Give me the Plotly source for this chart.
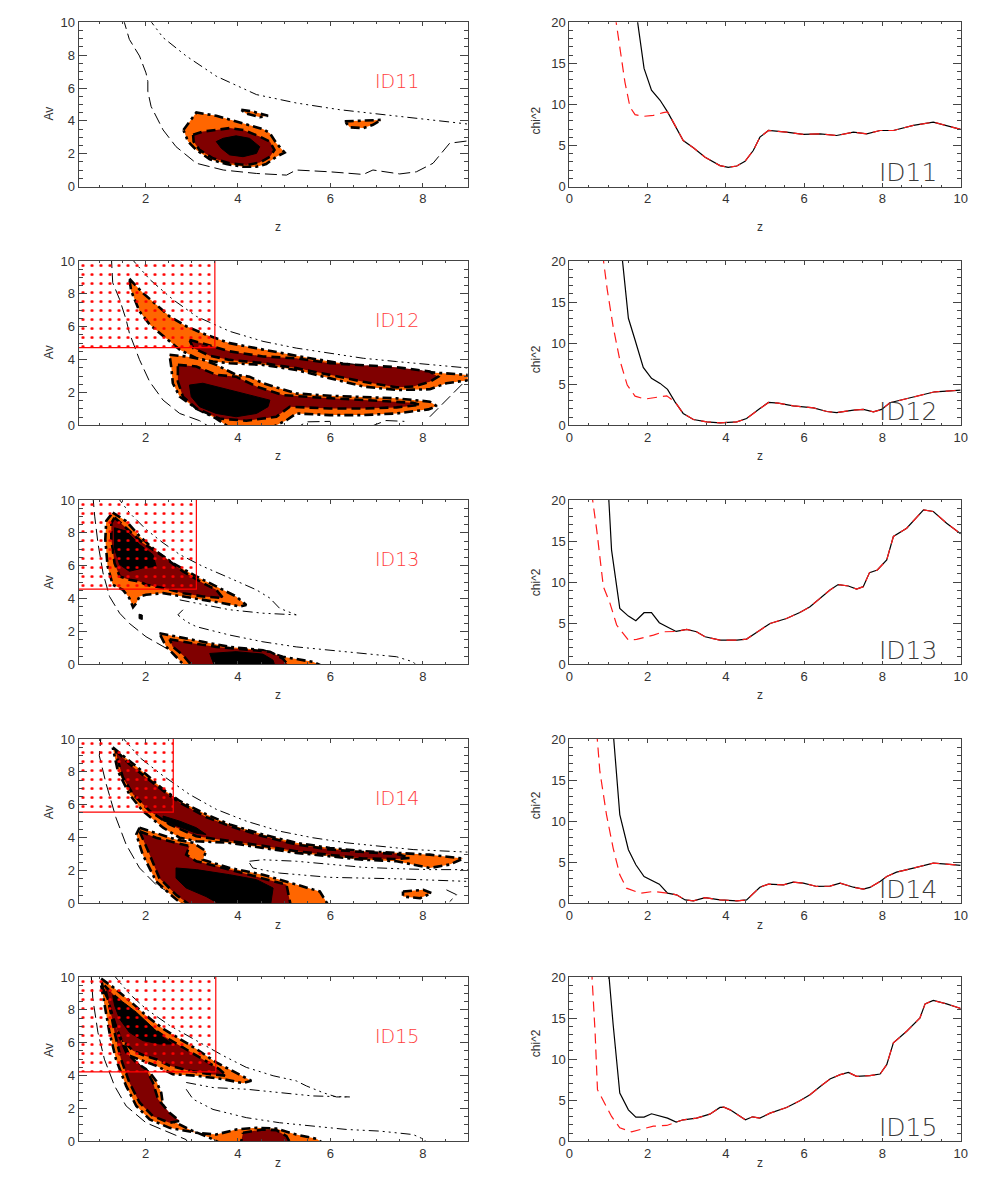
import plotly.graph_objects as go

# ---------------------------------------------------------------------------
# right column: chi2 versus z (black = free fit, red dashed = with prior)
# red curves only list their low-z branch; above RED_JOIN they follow black
# ---------------------------------------------------------------------------
ID11_Z = [1.72, 1.91, 2.10, 2.32, 2.51, 2.70, 2.91, 3.17, 3.47, 3.85, 4.06, 4.28, 4.49, 4.70,
          4.87, 5.09, 5.55, 5.98, 6.41, 6.83, 7.00, 7.26, 7.60, 7.94, 8.28, 8.79, 9.30, 10.0]
ID11_CHI = [20.9, 14.39, 11.73, 10.51, 9.1, 7.48, 5.61, 4.72, 3.57, 2.56, 2.35, 2.51, 3.08, 4.39,
            6.02, 6.83, 6.63, 6.35, 6.43, 6.22, 6.35, 6.63, 6.43, 6.83, 6.83, 7.45, 7.85, 6.96]
ID11_RED_Z = [1.17, 1.29, 1.42, 1.55, 1.68, 1.89, 2.15, 2.40]
ID11_RED = [20.9, 16.84, 12.75, 9.69, 8.76, 8.55, 8.67, 9.0]
ID11_RED_JOIN = 2.51

ID12_Z = [1.34, 1.51, 1.68, 1.89, 2.10, 2.32, 2.51, 2.70, 2.91, 3.17, 3.51, 3.85, 4.28, 4.53, 4.87,
          5.09, 5.34, 5.72, 5.98, 6.24, 6.58, 6.83, 7.26, 7.51, 7.77, 7.98, 8.19, 8.53, 8.96, 9.34,
          9.64, 10.0]
ID12_CHI = [20.9, 13.03, 10.39, 7.05, 5.71, 5.10, 4.37, 2.86, 1.44, 0.70, 0.41, 0.30, 0.41, 0.82,
            2.05, 2.78, 2.69, 2.37, 2.25, 2.12, 1.68, 1.55, 1.84, 1.93, 1.64, 1.93, 2.74, 3.14,
            3.59, 4.08, 4.16, 4.28]
ID12_RED_Z = [0.85, 0.97, 1.12, 1.29, 1.48, 1.68, 1.93, 2.15, 2.49]
ID12_RED = [20.9, 16.49, 12.01, 7.95, 4.90, 3.55, 3.19, 3.35, 3.59]
ID12_RED_JOIN = 2.70

ID13_Z = [1.00, 1.08, 1.29, 1.51, 1.70, 1.91, 2.10, 2.30, 2.53, 2.73, 3.00, 3.25, 3.47, 3.85, 4.28,
          4.53, 4.87, 5.13, 5.55, 5.89, 6.15, 6.41, 6.66, 6.87, 7.13, 7.34, 7.51, 7.67, 7.87, 8.11,
          8.28, 8.62, 9.05, 9.30, 9.64, 10.0]
ID13_CHI = [20.9, 13.9, 6.81, 5.87, 5.30, 6.28, 6.28, 5.06, 4.49, 4.0, 4.24, 3.96, 3.35, 2.94, 2.94,
            3.07, 4.16, 4.97, 5.58, 6.31, 7.0, 8.02, 9.04, 9.70, 9.53, 9.16, 9.45, 11.16, 11.48,
            12.71, 15.56, 16.57, 18.8, 18.6, 17.18, 15.88]
ID13_RED_Z = [0.57, 0.70, 0.87, 1.04, 1.21, 1.51, 1.72, 2.15, 2.40]
ID13_RED = [20.9, 16.37, 9.45, 7.42, 4.78, 2.94, 3.03, 3.55, 3.96]
ID13_RED_JOIN = 2.73

ID14_Z = [1.12, 1.21, 1.29, 1.51, 1.70, 1.91, 2.30, 2.51, 2.74, 2.96, 3.17, 3.47, 3.85, 4.28, 4.53,
          4.87, 5.09, 5.47, 5.72, 5.98, 6.32, 6.66, 6.92, 7.26, 7.51, 7.68, 7.94, 8.11, 8.36, 8.79,
          9.30, 9.64, 10.0]
ID14_CHI = [20.9, 15.27, 10.80, 6.52, 4.69, 3.26, 2.33, 1.23, 1.03, 0.41, 0.30, 0.70, 0.41, 0.30,
            0.41, 1.96, 2.33, 2.25, 2.57, 2.46, 2.05, 2.09, 2.46, 1.96, 1.72, 1.93, 2.66, 3.26,
            3.80, 4.28, 4.90, 4.78, 4.61]
ID14_RED_Z = [0.70, 0.78, 0.95, 1.12, 1.29, 1.46, 1.81, 2.15]
ID14_RED = [20.9, 16.08, 10.80, 6.72, 3.47, 1.84, 1.23, 1.44]
ID14_RED_JOIN = 2.51

ID15_Z = [1.00, 1.12, 1.29, 1.51, 1.70, 1.91, 2.10, 2.32, 2.51, 2.73, 2.91, 3.25, 3.59, 3.85, 3.95,
          4.11, 4.50, 4.68, 4.87, 5.13, 5.55, 5.89, 6.15, 6.41, 6.66, 6.92, 7.13, 7.34, 7.68, 7.94,
          8.11, 8.28, 8.62, 8.96, 9.09, 9.30, 9.64, 10.0]
ID15_CHI = [20.9, 14.21, 5.87, 3.83, 2.94, 2.94, 3.35, 3.03, 2.82, 2.33, 2.62, 2.82, 3.30, 4.12,
            4.16, 3.83, 2.62, 2.98, 2.82, 3.43, 4.12, 4.94, 5.67, 6.68, 7.58, 8.11, 8.39, 7.90,
            7.99, 8.19, 9.33, 11.98, 13.40, 15.03, 16.73, 17.14, 16.73, 16.17]
ID15_RED_Z = [0.57, 0.66, 0.72, 0.95, 1.08, 1.29, 1.59, 2.15, 2.49]
ID15_RED = [20.9, 13.19, 6.28, 4.24, 3.03, 1.64, 1.16, 1.84, 1.93]
ID15_RED_JOIN = 2.73

# ---------------------------------------------------------------------------
# left column: Av - z confidence regions, (z, Av) outlines
# ---------------------------------------------------------------------------
ID11_ORANGE = [
    [(2.82, 3.45), (3.03, 4.28), (3.10, 4.51), (3.53, 4.31), (3.96, 3.97), (4.25, 3.76), (4.54, 3.50),
     (4.69, 3.25), (4.83, 2.64), (5.01, 2.07), (4.83, 1.82), (4.61, 1.37), (4.40, 1.21), (4.11, 1.21),
     (3.75, 1.37), (3.39, 1.66), (3.10, 2.23), (2.92, 2.74)],
    [(4.07, 4.68), (4.32, 4.57), (4.65, 4.31), (4.47, 4.23), (4.18, 4.44)],
    [(6.31, 3.97), (7.10, 4.06), (6.92, 3.76), (6.71, 3.56), (6.42, 3.61)],
]
ID11_DARKRED = [
    [(3.03, 3.15), (3.24, 3.35), (3.53, 3.45), (3.82, 3.56), (4.11, 3.45), (4.47, 3.05), (4.69, 2.74),
     (4.79, 2.23), (4.69, 1.82), (4.47, 1.46), (4.18, 1.31), (3.82, 1.42), (3.46, 1.72), (3.17, 2.23),
     (3.04, 2.74)],
]
ID11_BLACK = [
    [(3.53, 2.74), (3.68, 2.94), (3.96, 3.09), (4.25, 2.94), (4.47, 2.43), (4.40, 2.02), (4.11, 1.82),
     (3.82, 1.93), (3.64, 2.33)],
]
ID11_OUTER = [
    [(2.05, 10.3), (2.38, 9.07), (2.88, 7.95), (3.53, 6.72), (4.40, 5.60), (5.26, 5.09), (6.20, 4.68),
     (7.43, 4.28), (9.0, 3.80)],
]
ID11_INNER = [
    [(1.51, 10.3), (1.65, 8.96), (1.87, 7.95), (2.01, 6.92), (2.05, 6.41), (2.05, 5.80), (2.12, 4.88),
     (2.38, 3.45), (2.66, 2.43), (3.10, 1.42), (3.68, 1.01), (4.40, 0.80), (5.05, 0.70), (5.26, 1.01),
     (5.99, 0.90), (6.71, 0.74), (6.92, 1.01), (7.50, 0.77), (7.86, 0.90), (8.22, 1.42), (8.58, 2.64),
     (8.97, 2.78)],
]

ID12_ORANGE = [
    [(1.65, 8.92), (1.94, 8.06), (2.23, 7.35), (2.52, 6.63), (2.88, 6.03), (3.31, 5.51), (3.82, 5.00),
     (4.54, 4.60), (5.26, 4.23), (5.99, 3.88), (6.71, 3.58), (7.43, 3.37), (8.15, 3.21), (9.2, 3.02),
     (9.2, 2.83), (8.51, 2.56), (8.15, 2.19), (7.43, 2.15), (6.71, 2.36), (5.99, 2.87), (5.26, 3.37),
     (4.54, 3.68), (3.82, 3.78), (3.46, 3.88), (3.10, 4.08), (2.74, 4.60), (2.38, 5.42), (2.09, 6.13),
     (1.87, 6.94), (1.69, 8.17)],
    [(2.52, 4.29), (2.88, 4.19), (3.24, 3.99), (3.53, 3.68), (3.96, 3.07), (4.25, 2.96), (4.54, 2.56),
     (5.26, 1.94), (5.99, 1.80), (6.71, 1.74), (7.43, 1.64), (8.15, 1.44), (8.30, 1.17), (8.12, 0.97),
     (7.43, 0.72), (6.71, 0.62), (5.99, 0.62), (5.26, 0.72), (5.05, 0.31), (4.54, -0.4), (3.96, -0.4),
     (3.53, 0.41), (3.10, 1.02), (2.74, 1.74), (2.59, 2.56), (2.56, 3.48)],
]
ID12_DARKRED = [
    [(2.95, 5.21), (3.31, 4.90), (3.82, 4.50), (4.54, 4.19), (5.26, 4.08), (5.99, 3.78), (6.71, 3.68),
     (7.43, 3.54), (8.15, 3.27), (8.33, 2.96), (8.15, 2.65), (7.79, 2.36), (7.43, 2.31), (6.71, 2.65),
     (5.99, 3.07), (5.26, 3.48), (4.54, 3.79), (3.82, 3.98), (3.39, 4.23), (3.03, 4.70)],
    [(2.70, 3.68), (3.10, 3.58), (3.53, 3.07), (3.96, 2.96), (4.40, 2.36), (4.97, 1.84), (5.62, 1.71),
     (6.35, 1.60), (7.07, 1.51), (7.79, 1.37), (7.94, 1.24), (7.43, 1.09), (6.71, 1.02), (5.99, 1.02),
     (5.12, 1.13), (4.83, 0.52), (4.18, 0.28), (3.60, 0.41), (3.10, 1.02), (2.81, 1.74), (2.70, 2.65)],
]
ID12_BLACK = [
    [(2.95, 2.45), (3.24, 2.56), (3.82, 2.15), (4.40, 1.74), (4.69, 1.53), (4.65, 1.13), (4.40, 0.72),
     (3.96, 0.52), (3.53, 0.72), (3.17, 1.13), (2.99, 1.74)],
]
ID12_OUTER = [
    [(1.65, 10.3), (2.09, 8.88), (2.59, 7.66), (3.10, 6.63), (3.82, 5.72), (4.54, 5.11), (5.26, 4.70),
     (5.99, 4.39), (6.71, 4.08), (7.43, 3.88), (8.15, 3.68), (9.0, 3.48)],
]
ID12_INNER = [
    [(1.26, 10.3), (1.29, 8.68), (1.44, 7.66), (1.58, 6.43), (1.65, 5.62), (1.87, 3.99), (2.09, 2.65),
     (2.38, 1.53), (2.74, 0.72), (3.17, 0.28), (3.5, -0.3)],
    [(5.19, -0.3), (5.48, 0.21), (6.0, 0.24)],
    [(6.85, -0.1), (7.2, 0.29), (7.6, 0.24)],
    [(8.15, 0.52), (8.58, 1.74), (8.87, 2.56), (9.0, 2.78)],
]

ID13_ORANGE = [
    [(1.29, 9.23), (1.58, 8.72), (1.87, 7.80), (2.23, 6.88), (2.59, 6.16), (3.10, 5.35), (3.53, 4.74),
     (3.96, 4.13), (4.18, 3.61), (4.04, 3.52), (3.68, 3.72), (3.24, 3.92), (2.74, 4.13), (2.38, 4.33),
     (2.01, 4.23), (1.87, 4.13), (1.80, 3.72), (1.73, 3.48), (1.65, 4.03), (1.51, 4.53), (1.29, 4.84),
     (1.18, 5.96), (1.13, 7.59), (1.15, 8.72)],
    [(2.30, 1.89), (2.66, 1.68), (3.24, 1.37), (3.82, 1.06), (4.54, 0.86), (4.97, 0.46), (5.62, 0.15),
     (6.06, -0.4), (2.95, -0.4), (2.66, 0.46), (2.45, 1.06)],
]
ID13_DARKRED = [
    [(1.33, 8.93), (1.58, 8.31), (1.94, 7.39), (2.38, 6.58), (2.81, 5.66), (3.24, 4.95), (3.53, 4.53),
     (3.68, 4.03), (3.24, 4.13), (2.81, 4.33), (2.38, 4.64), (2.01, 4.84), (1.87, 5.04), (1.65, 5.15),
     (1.44, 5.35), (1.33, 6.16), (1.26, 7.59), (1.26, 8.60)],
    [(2.52, 1.53), (2.95, 1.31), (3.53, 1.06), (4.18, 0.90), (4.69, 0.77), (4.97, 0.35), (5.19, -0.4),
     (3.10, -0.4), (2.81, 0.55), (2.59, 1.06)],
]
ID13_BLACK = [
    [(1.33, 8.31), (1.58, 8.11), (1.87, 7.29), (2.16, 6.68), (2.23, 5.96), (1.94, 5.86), (1.65, 5.66),
     (1.44, 6.07), (1.33, 7.03)],
    [(3.39, 0.66), (3.96, 0.77), (4.54, 0.62), (4.76, 0.25), (4.83, -0.4), (3.53, -0.4)],
    [(1.86, 3.05), (1.93, 3.0), (1.93, 2.73), (1.86, 2.78)],
]
ID13_OUTER = [
    [(1.36, 10.3), (1.65, 9.23), (2.01, 8.21), (2.38, 7.39), (2.74, 6.68), (3.24, 5.96), (3.82, 5.25),
     (4.40, 4.53), (4.69, 4.03), (4.90, 3.41), (5.26, 3.01)],
    [(2.74, 3.92), (3.10, 3.72), (3.82, 3.32), (4.54, 3.11), (5.26, 3.01)],
    [(2.81, 3.32), (2.70, 3.01), (2.88, 2.60), (3.10, 2.29), (3.82, 1.78), (4.54, 1.37), (5.26, 1.06),
     (5.99, 0.86), (6.71, 0.66), (7.43, 0.46), (7.79, 0.15), (7.94, -0.3)],
]
ID13_INNER = [
    [(0.86, 10.3), (0.90, 9.02), (0.97, 7.39), (1.08, 5.56), (1.22, 4.13), (1.44, 3.11), (1.65, 2.49),
     (2.01, 1.68), (2.52, 0.86), (2.88, 0.15), (2.95, -0.3)],
]

ID14_ORANGE = [
    [(1.29, 9.49), (1.65, 8.68), (2.01, 7.86), (2.38, 6.94), (2.74, 6.23), (3.31, 5.42), (3.82, 4.80),
     (4.54, 4.19), (5.26, 3.68), (5.99, 3.37), (6.71, 3.17), (7.43, 3.07), (8.15, 2.96), (8.87, 2.72),
     (8.58, 2.36), (8.15, 2.15), (7.43, 2.56), (6.71, 2.65), (5.99, 2.87), (5.26, 3.07), (4.54, 3.37),
     (3.82, 3.68), (3.10, 3.78), (2.74, 3.99), (2.38, 4.60), (1.94, 5.62), (1.65, 6.63), (1.40, 8.06)],
    [(1.87, 4.60), (2.23, 4.29), (2.66, 3.88), (3.03, 3.68), (3.31, 3.17), (3.24, 2.65), (3.82, 2.15),
     (4.54, 1.74), (5.26, 1.13), (5.77, 0.72), (6.02, -0.4), (2.95, -0.4), (2.59, 0.41), (2.23, 1.33),
     (1.94, 2.96), (1.80, 4.19)],
    [(7.57, 0.72), (8.01, 0.82), (8.19, 0.62), (7.94, 0.31), (7.57, 0.41)],
]
ID14_DARKRED = [
    [(1.36, 9.29), (1.65, 8.48), (2.01, 7.66), (2.38, 6.85), (2.74, 6.13), (3.31, 5.25), (3.82, 4.70),
     (4.54, 4.08), (5.26, 3.58), (5.99, 3.27), (6.71, 3.12), (7.43, 3.01), (7.72, 2.76), (7.43, 2.70),
     (6.71, 2.73), (5.99, 2.94), (5.26, 3.17), (4.54, 3.50), (3.82, 3.81), (3.10, 4.08), (2.52, 4.80),
     (2.09, 5.62), (1.73, 6.63), (1.51, 7.66), (1.40, 8.68)],
    [(1.87, 4.39), (2.23, 3.99), (2.66, 3.68), (2.95, 3.48), (2.88, 2.96), (3.10, 2.56), (3.82, 2.05),
     (4.54, 1.53), (5.05, 1.13), (5.16, -0.4), (3.10, -0.4), (2.66, 0.52), (2.30, 1.53), (2.09, 2.96),
     (1.94, 3.99)],
]
ID14_BLACK = [
    [(2.66, 2.15), (3.10, 2.05), (3.82, 1.74), (4.40, 1.44), (4.76, 0.93), (4.69, -0.4), (3.82, -0.4),
     (3.31, 0.41), (2.88, 0.93), (2.66, 1.53)],
    [(2.38, 5.31), (2.74, 5.00), (3.10, 4.60), (3.31, 4.19), (3.10, 4.26), (2.74, 4.65), (2.38, 5.03)],
]
ID14_OUTER = [
    [(1.44, 10.3), (1.87, 8.88), (2.38, 7.76), (2.95, 6.63), (3.53, 5.72), (4.18, 5.00), (4.90, 4.39),
     (5.62, 3.99), (6.35, 3.68), (7.07, 3.48), (7.79, 3.27), (9.0, 3.11)],
    [(4.25, 2.56), (4.54, 2.65), (5.26, 2.56), (5.99, 2.36), (6.71, 2.19), (7.43, 2.11), (8.15, 2.05),
     (9.0, 2.05)],
    [(4.25, 2.45), (4.32, 2.15), (4.90, 1.84), (5.99, 1.58), (7.43, 1.49), (9.0, 1.33)],
]
ID14_INNER = [
    [(1.04, 10.3), (1.0, 8.98), (1.15, 7.25), (1.36, 5.21), (1.58, 3.58), (1.87, 2.15), (2.23, 1.13),
     (2.66, 0.41), (2.88, 0.10), (2.95, -0.3)],
    [(8.51, 0.82), (8.73, 0.52), (8.58, 0.10)],
]

ID15_ORANGE = [
    [(1.04, 9.90), (1.29, 9.40), (1.65, 8.57), (2.01, 7.66), (2.38, 6.85), (2.74, 6.23), (3.10, 5.62),
     (3.53, 4.80), (3.96, 4.19), (4.29, 3.68), (4.11, 3.54), (3.68, 3.78), (3.10, 3.99), (2.59, 4.08),
     (2.23, 4.60), (1.94, 4.90), (1.65, 5.21), (1.36, 6.63), (1.15, 8.27)],
    [(1.04, 9.49), (1.11, 8.27), (1.22, 6.63), (1.36, 5.00), (1.58, 3.37), (1.80, 2.15), (2.09, 1.33),
     (2.52, 0.82), (3.10, 0.52), (3.53, 0.41), (3.96, 0.72), (4.40, 0.82), (4.83, 0.77), (5.26, 0.41),
     (5.70, 0.15), (5.99, -0.4), (3.82, -0.4), (3.39, 0.21), (2.95, 0.72), (2.52, 1.33), (2.38, 2.15),
     (2.34, 2.96), (2.23, 3.68), (2.09, 4.19), (1.87, 4.60), (1.65, 5.21), (1.44, 6.63), (1.26, 8.27)],
]
ID15_DARKRED = [
    [(1.11, 9.49), (1.36, 8.78), (1.65, 8.06), (2.01, 7.15), (2.38, 6.43), (2.81, 5.72), (3.24, 5.00),
     (3.60, 4.39), (3.75, 3.99), (3.39, 4.08), (2.95, 4.29), (2.52, 4.60), (2.23, 5.00), (1.98, 5.21),
     (1.73, 5.51), (1.47, 6.23), (1.29, 7.45), (1.18, 8.68)],
    [(1.22, 8.27), (1.33, 6.63), (1.47, 5.00), (1.65, 3.58), (1.87, 2.36), (2.16, 1.53), (2.52, 1.13),
     (2.74, 1.24), (2.52, 1.74), (2.27, 2.56), (2.16, 3.58), (2.01, 4.39), (1.80, 4.80), (1.58, 5.42),
     (1.40, 6.63)],
    [(4.11, 0.52), (4.54, 0.72), (4.83, 0.68), (5.05, 0.31), (5.19, -0.4), (4.04, -0.4)],
]
ID15_BLACK = [
    [(1.29, 8.88), (1.51, 8.48), (1.80, 7.86), (2.16, 6.94), (2.38, 6.33), (2.59, 5.92), (2.30, 5.92),
     (1.94, 6.13), (1.65, 6.63), (1.44, 7.45), (1.33, 8.27)],
]
ID15_OUTER = [
    [(1.26, 10.3), (1.65, 8.98), (2.01, 8.06), (2.52, 7.05), (3.10, 6.13), (3.68, 5.21), (4.18, 4.50),
     (4.76, 3.99), (5.26, 3.68), (5.48, 3.37), (5.84, 2.96), (6.13, 2.70), (6.42, 2.70)],
    [(2.88, 3.58), (3.46, 3.27), (4.18, 3.17), (4.90, 2.96), (5.62, 2.76), (6.42, 2.70)],
    [(2.88, 3.17), (3.03, 2.56), (3.46, 1.94), (4.18, 1.44), (4.90, 1.13), (5.62, 0.93), (6.35, 0.72),
     (7.07, 0.62), (7.79, 0.41), (8.04, 0.10), (8.1, -0.3)],
]
ID15_INNER = [
    [(0.82, 10.3), (0.86, 8.68), (0.97, 6.63), (1.11, 5.00), (1.33, 3.37), (1.58, 2.15), (2.01, 1.13),
     (2.52, 0.52), (2.88, 0.10), (2.95, -0.3)],
]

# prior boxes (upper-left hatched area): z upper edge, Av lower edge; None = no box
BOX_ZMAX = [None, 3.50, 3.10, 2.60, 3.52]
BOX_AVMIN = [None, 4.73, 4.57, 5.55, 4.22]

LABELS = ["ID11", "ID12", "ID13", "ID14", "ID15"]

CHI = [
    (ID11_Z, ID11_CHI, ID11_RED_Z, ID11_RED, ID11_RED_JOIN),
    (ID12_Z, ID12_CHI, ID12_RED_Z, ID12_RED, ID12_RED_JOIN),
    (ID13_Z, ID13_CHI, ID13_RED_Z, ID13_RED, ID13_RED_JOIN),
    (ID14_Z, ID14_CHI, ID14_RED_Z, ID14_RED, ID14_RED_JOIN),
    (ID15_Z, ID15_CHI, ID15_RED_Z, ID15_RED, ID15_RED_JOIN),
]
CONT = [
    (ID11_ORANGE, ID11_DARKRED, ID11_BLACK, ID11_OUTER, ID11_INNER),
    (ID12_ORANGE, ID12_DARKRED, ID12_BLACK, ID12_OUTER, ID12_INNER),
    (ID13_ORANGE, ID13_DARKRED, ID13_BLACK, ID13_OUTER, ID13_INNER),
    (ID14_ORANGE, ID14_DARKRED, ID14_BLACK, ID14_OUTER, ID14_INNER),
    (ID15_ORANGE, ID15_DARKRED, ID15_BLACK, ID15_OUTER, ID15_INNER),
]

# ---------------------------------------------------------------------------
# page geometry (screen pixels); the page body adds an 8px margin around the figure
PAGE = 8
W, H = 981 - 2 * PAGE, 1191 - 2 * PAGE - 4
ROW_TOP = [22.3, 261.0, 500.0, 739.0, 977.0]
ROW_H = 164.3
LEFT_X = (78.5, 467.7)
RIGHT_X = (569.3, 960.7)

ORANGE = "#ff6600"
DARKRED = "#800000"
AXC = "#444444"
FONT = "Liberation Sans"

fig = go.Figure()


def px_x(x):
    return (x - PAGE) / W


def px_y(y):
    return 1 - (y - PAGE) / H


def xy(pts, close=False):
    zs = [p[0] for p in pts]
    av = [p[1] for p in pts]
    if close:
        zs.append(pts[0][0])
        av.append(pts[0][1])
    return zs, av


def ax_names(k):
    return ("x" if k == 1 else f"x{k}"), ("y" if k == 1 else f"y{k}")


def axis_style(rng, dtick, minor, ticklen, minorlen):
    return dict(
        range=rng, dtick=dtick, tick0=0, showgrid=False, zeroline=False, automargin=False,
        showline=True, linecolor=AXC, linewidth=1, mirror="allticks",
        ticks="inside", ticklen=ticklen, tickcolor=AXC, tickwidth=1,
        tickfont=dict(family=FONT, size=13, color="#333333"),
        minor=dict(ticks="inside", dtick=minor, ticklen=minorlen, tickcolor=AXC, showgrid=False),
    )


annotations = []
for r in range(5):
    top = ROW_TOP[r]
    ydom = [px_y(top + ROW_H), px_y(top)]

    # ---------------- left: Av vs z ----------------
    k = 2 * r + 1
    xa, ya = ax_names(k)
    orange, dark, black, outer, inner = CONT[r]

    for line in inner:
        zs, av = xy(line)
        fig.add_trace(go.Scatter(x=zs, y=av, mode="lines", xaxis=xa, yaxis=ya,
                                 line=dict(color="black", width=1, dash="12px,5px")))
    for line in outer:
        zs, av = xy(line)
        fig.add_trace(go.Scatter(x=zs, y=av, mode="lines", xaxis=xa, yaxis=ya,
                                 line=dict(color="black", width=1,
                                           dash="10px,4px,2px,4px,2px,4px,2px,4px")))
    for poly in orange:
        zs, av = xy(poly, close=True)
        fig.add_trace(go.Scatter(x=zs, y=av, mode="lines", fill="toself", fillcolor=ORANGE,
                                 xaxis=xa, yaxis=ya,
                                 line=dict(color="black", width=2.6, dash="9px,4px,3px,4px")))
    for poly in dark:
        zs, av = xy(poly, close=True)
        fig.add_trace(go.Scatter(x=zs, y=av, mode="lines", fill="toself", fillcolor=DARKRED,
                                 xaxis=xa, yaxis=ya,
                                 line=dict(color="black", width=2.6, dash="9px,5px")))
    for poly in black:
        zs, av = xy(poly, close=True)
        fig.add_trace(go.Scatter(x=zs, y=av, mode="lines", fill="toself", fillcolor="black",
                                 xaxis=xa, yaxis=ya, line=dict(color="black", width=1)))

    if BOX_ZMAX[r] is not None:
        zmax, avmin = BOX_ZMAX[r], BOX_AVMIN[r]
        fig.add_trace(go.Scatter(
            x=[0, zmax, zmax, 0, 0], y=[avmin, avmin, 11, 11, avmin],
            mode="lines", fill="toself", fillcolor="rgba(0,0,0,0)",
            fillpattern=dict(shape=".", fgcolor="#ff0000", fgopacity=1, bgcolor="rgba(0,0,0,0)",
                             size=9, solidity=0.09, fillmode="overlay"),
            xaxis=xa, yaxis=ya, line=dict(color="#ff0000", width=1.2)))

    fig.layout[("xaxis" if k == 1 else f"xaxis{k}")] = dict(
        domain=[px_x(LEFT_X[0]), px_x(LEFT_X[1])], anchor=ya,
        **axis_style([0.55, 8.97], 2, 0.5, 3.5, 2))
    fig.layout[("yaxis" if k == 1 else f"yaxis{k}")] = dict(
        domain=ydom, anchor=xa, **axis_style([0, 10], 2, 0.5, 8, 4))

    annotations.append(dict(x=7.43, y=6.4, xref=xa, yref=ya, text=LABELS[r], showarrow=False,
                            font=dict(family="DejaVu Sans", size=19, color="#ff3b3b", weight=200)))

    # ---------------- right: chi2 vs z ----------------
    k = 2 * r + 2
    xa, ya = ax_names(k)
    zb, cb, zr, cr, join = CHI[r]
    red_z = zr + [z for z in zb if z >= join]
    red_c = cr + [c for z, c in zip(zb, cb) if z >= join]
    fig.add_trace(go.Scatter(x=zb, y=cb, mode="lines", xaxis=xa, yaxis=ya,
                             line=dict(color="black", width=1.2)))
    fig.add_trace(go.Scatter(x=red_z, y=red_c, mode="lines", xaxis=xa, yaxis=ya,
                             line=dict(color="#ff1a1a", width=1.2, dash="10px,6px")))

    fig.layout[f"xaxis{k}"] = dict(
        domain=[px_x(RIGHT_X[0]), px_x(RIGHT_X[1])], anchor=ya,
        **axis_style([0, 10], 2, 0.5, 3.5, 2))
    fig.layout[f"yaxis{k}"] = dict(
        domain=ydom, anchor=xa, **axis_style([0, 20], 5, 1, 8, 4))

    annotations.append(dict(x=8.66, y=1.7, xref=xa, yref=ya, text=LABELS[r], showarrow=False,
                            font=dict(family="DejaVu Sans", size=25, color="#3a3a3a", weight=200)))

    # axis titles
    ybot = px_y(top + ROW_H + 31)
    ymid = px_y(top + ROW_H / 2)
    for (x0, x1) in (LEFT_X, RIGHT_X):
        annotations.append(dict(x=px_x((x0 + x1) / 2), y=ybot, xref="paper", yref="paper",
                                text="z", showarrow=False,
                                font=dict(family=FONT, size=12, color="#333333")))
    annotations.append(dict(x=px_x(40), y=ymid, xref="paper", yref="paper", text="Av",
                            textangle=-90, showarrow=False,
                            font=dict(family=FONT, size=12, color="#333333")))
    annotations.append(dict(x=px_x(536), y=ymid, xref="paper", yref="paper", text="chi^2",
                            textangle=-90, showarrow=False,
                            font=dict(family=FONT, size=12, color="#333333")))

fig.update_layout(
    width=W, height=H, margin=dict(l=0, r=0, t=0, b=0, autoexpand=False),
    paper_bgcolor="white", plot_bgcolor="white",
    showlegend=False, annotations=annotations,
)

fig.write_html("out.html")
